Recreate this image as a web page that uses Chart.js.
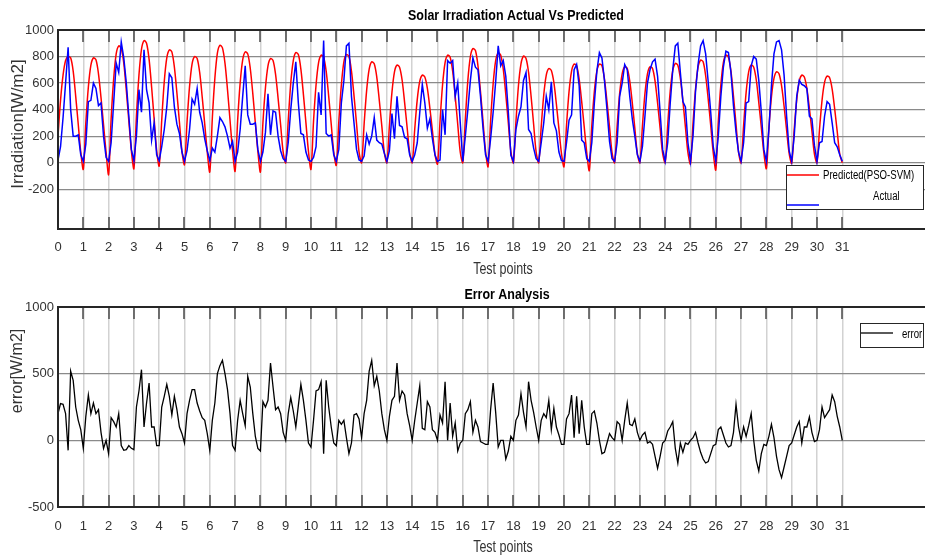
<!DOCTYPE html>
<html>
<head>
<meta charset="utf-8">
<script src="https://cdn.jsdelivr.net/npm/chart.js@4.4.1/dist/chart.umd.min.js"></script>
<style>
  html, body { margin: 0; padding: 0; background: #fff; }
  #wrap { position: relative; width: 925px; height: 560px; background: #fff; }
  canvas { position: absolute; left: 0; }
</style>
</head>
<body>
<div id="wrap">
  <canvas id="irradChart" width="925" height="280" style="top:0"></canvas>
  <canvas id="errorChart" width="925" height="280" style="top:280px"></canvas>
</div>
<script>
const SANS = "'Liberation Sans', Arial, sans-serif";

// tick labels
const xTickValues = [0,1,2,3,4,5,6,7,8,9,10,11,12,13,14,15,16,17,18,19,20,21,22,23,24,25,26,27,28,29,30,31];
const irradTicks = [-200, 0, 200, 400, 600, 800, 1000];
const errorTicks = [-500, 0, 500, 1000];

// one row per day, 10 samples a day, last value is the end point at 31
const predicted = [
  200, 470, 660, 770, 800, 790, 690, 500, 290, 80,
  -50, 300, 570, 735, 790, 775, 670, 490, 285, 80,
  -90, 330, 630, 820, 880, 860, 750, 545, 315, 90,
  -45, 350, 660, 855, 920, 900, 780, 570, 330, 90,
  -25, 320, 610, 790, 850, 835, 720, 525, 305, 85,
  -15, 305, 575, 745, 800, 785, 680, 495, 290, 80,
  -70, 335, 635, 825, 885, 865, 750, 550, 320, 90,
  -65, 315, 600, 775, 835, 820, 710, 520, 300, 85,
  -70, 300, 565, 730, 785, 770, 665, 485, 285, 80,
  0, 315, 600, 770, 830, 815, 705, 515, 300, 85,
  -50, 310, 585, 755, 810, 795, 690, 500, 290, 80,
  -20, 310, 585, 760, 815, 800, 690, 505, 295, 80,
  0, 290, 545, 705, 760, 745, 645, 470, 275, 75,
  0, 280, 530, 685, 735, 720, 625, 455, 265, 75,
  0, 250, 475, 615, 660, 645, 560, 410, 240, 65,
  -10, 310, 585, 755, 810, 795, 690, 500, 290, 80,
  0, 325, 620, 800, 860, 845, 730, 535, 310, 85,
  -30, 315, 595, 770, 828, 810, 705, 515, 300, 85,
  0, 305, 580, 745, 803, 785, 680, 500, 290, 80,
  0, 270, 510, 660, 710, 695, 605, 440, 255, 70,
  -30, 280, 535, 690, 743, 730, 630, 460, 270, 75,
  -60, 280, 535, 690, 743, 730, 630, 460, 270, 75,
  0, 275, 520, 670, 723, 710, 615, 450, 260, 70,
  0, 275, 520, 670, 723, 710, 615, 450, 260, 70,
  0, 285, 540, 695, 748, 735, 635, 465, 270, 75,
  -10, 295, 555, 720, 773, 760, 655, 480, 280, 75,
  -55, 310, 585, 755, 810, 795, 690, 500, 290, 80,
  0, 280, 530, 685, 735, 720, 625, 455, 265, 75,
  -45, 260, 495, 635, 685, 670, 580, 425, 245, 70,
  -5, 250, 475, 615, 660, 645, 560, 410, 240, 65,
  0, 250, 470, 605, 653, 640, 555, 405, 235, 65,
  0
];

const actual = [
  20, 120, 340, 600, 870, 400, 200, 200, 210, 60,
  10, 140, 460, 470, 600, 560, 430, 450, 200, 40,
  10, 150, 450, 750, 680, 910, 790, 600, 350, 100,
  15, 200, 550, 380, 850, 550, 450, 170, 300, 60,
  15, 120, 250, 420, 670, 640, 420, 290, 220, 80,
  10, 90, 250, 480, 440, 560, 380, 300, 180, 90,
  15, 110, 80, 200, 340, 310, 270, 200, 110, 160,
  10, 80, 250, 500, 730, 360, 290, 290, 300, 100,
  10, 80, 230, 520, 210, 390, 380, 200, 90, 30,
  10, 150, 400, 600, 760, 450, 220, 210, 80, 20,
  10, 40, 120, 530, 360, 920, 220, 200, 210, 60,
  10, 100, 450, 620, 880, 900, 500, 300, 100, 20,
  10, 50, 210, 140, 200, 340, 170, 150, 140, 70,
  10, 90, 370, 180, 500, 280, 270, 190, 180, 60,
  10, 60, 150, 380, 590, 450, 260, 330, 180, 60,
  10, 20, 400, 210, 770, 750, 770, 500, 600, 300,
  10, 200, 400, 620, 790, 720, 700, 500, 260, 60,
  10, 180, 380, 610, 880, 730, 770, 650, 380, 55,
  10, 250, 350, 420, 620, 680, 250, 220, 110, 30,
  10, 150, 300, 500, 400, 610, 300, 240, 80, 15,
  10, 150, 320, 360, 700, 740, 580, 170, 150, 30,
  10, 150, 450, 690, 830, 790, 620, 400, 160, 30,
  10, 150, 500, 600, 740, 700, 500, 330, 200, 60,
  10, 120, 350, 600, 700, 760, 780, 650, 380, 100,
  10, 150, 450, 700, 880, 900, 680, 460, 420, 150,
  10, 200, 540, 740, 880, 920, 820, 610, 380, 120,
  10, 200, 500, 720, 840, 830, 680, 430, 230, 80,
  10, 150, 450, 460, 730, 800, 780, 620, 380, 100,
  10, 250, 580, 820, 910, 920, 850, 660, 350, 90,
  10, 200, 500, 620, 590, 580, 560, 350, 330, 130,
  10, 150, 160, 350, 460, 440, 300, 150, 120, 60,
  10
];

const errorVals = [
  200, 275, 270, 200, -75, 520, 450, 250, 150, 80,
  -60, 180, 340, 200, 280, 200, 230, 60, -60, 0,
  -100, 170, 140, 100, 200, -40, -75, -70, -40, -60,
  -70, 250, 370, 530, 100, 280, 430, 100, 100, -40,
  -40, 250, 330, 420, 330, 190, 330, 230, 100, 50,
  -20, 200, 300, 380, 380, 280, 220, 170, 150, 50,
  -75, 150, 280, 500, 560, 600, 500, 380, 200, -40,
  -75, 150, 300, 200, 110, 480, 400, 200, 30, -60,
  -80, 290, 250, 300, 580, 400, 230, 250, 200, 60,
  0, 200, 320, 220, 100, 260, 420, 300, 150, -20,
  -50, 150, 370, 380, 440, -100, 450, 250, 100, -20,
  -40, 150, 120, 150, 20, -100, -20, 190, 200, 160,
  20, 200, 300, 520, 600, 410, 480, 370, 200, 80,
  0, 180, 300, 330, 580, 300, 370, 340, 200, 110,
  0, 150, 280, 410, 90, 80, 290, 250, 80, 60,
  0, 190, 130, 440, 0, 280, 30, 130, -80, -20,
  0, 200, 230, 290, 60, 150, 100, -10, -20, -30,
  -30, 230, 430, 210, -50, 0, 0, -140, -80, 30,
  0, 150, 190, 350, 210, 100, 440, 300, 210, 100,
  0, 150, 200, 170, 300, 80, 240, 100, 40, -30,
  -30, 160, 200, 340, 20, 330, 50, 300, 100, -30,
  -30, 200, 220, 130, 0, -100, -90, -20, 50, 20,
  0, 140, 120, 0, 150, 280, 120, 110, 160, 60,
  0, 40, 60, -20, -10, -30, -120, -210, -120, -20,
  0, 70, 100, 140, -60, -170, -20, -90, -20, -30,
  0, 20, 60, -20, -90, -140, -170, -160, -100, -40,
  -30, 80, 100, 40, -20, -50, -40, 60, 270, 100,
  0, 100, 30, 110, 200, 0, -150, -230, -100, -30,
  -40, 30, 120, 20, -120, -220, -280, -200, -120, -40,
  -20, 40, 100, 140, -20, 100, 100, 175, 60, -10,
  0, 80, 250, 170, 200, 230, 340, 290, 180, 100,
  0
];

// x position of each sample (10 per test point)
const testPoints = predicted.map((v, i) => i / 10);

function toPoints(values) {
  return values.map((v, i) => ({ x: testPoints[i], y: v }));
}

// text squeezed sideways, the matlab export looks condensed
function narrowText(ctx, text, x, y, font, sx, align) {
  ctx.save();
  ctx.font = font;
  ctx.textAlign = align || 'center';
  ctx.textBaseline = 'middle';
  ctx.translate(x, y);
  ctx.scale(sx, 1);
  ctx.fillText(text, 0, 0);
  ctx.restore();
}

// matlab style box: dark frame + short ticks inside at top and bottom
var axesBox = {
  id: 'axesBox',
  afterDatasetsDraw(chart) {
    const ctx = chart.ctx;
    const a = chart.chartArea;
    const x = chart.scales.x;
    ctx.save();
    ctx.strokeStyle = '#4a4a4a';
    ctx.lineWidth = 1.5;
    ctx.beginPath();
    x.ticks.forEach(t => {
      const px = Math.round(x.getPixelForValue(t.value));
      ctx.moveTo(px, a.top);
      ctx.lineTo(px, a.top + 12);
      ctx.moveTo(px, a.bottom);
      ctx.lineTo(px, a.bottom - 12);
    });
    ctx.stroke();
    ctx.strokeStyle = '#262626';
    ctx.lineWidth = 2;
    ctx.beginPath();
    ctx.moveTo(a.right + 3, a.top);
    ctx.lineTo(a.left, a.top);
    ctx.lineTo(a.left, a.bottom);
    ctx.lineTo(a.right + 3, a.bottom);
    ctx.stroke();
    ctx.restore();
  }
};

// titles, axis labels and the legend box
var matlabText = {
  id: 'matlabText',
  afterDraw(chart, args, o) {
    const ctx = chart.ctx;
    ctx.save();
    ctx.fillStyle = '#000';
    narrowText(ctx, o.title, o.titleX, o.titleY, 'bold 15px ' + SANS, 0.83);
    ctx.fillStyle = '#333';
    narrowText(ctx, o.xTitle, o.xTitleX, o.xTitleY, '16px ' + SANS, 0.78);
    ctx.translate(o.yTitleX, o.yTitleY);
    ctx.rotate(-Math.PI / 2);
    ctx.font = o.yTitleSize + 'px ' + SANS;
    ctx.textAlign = 'center';
    ctx.textBaseline = 'middle';
    ctx.fillText(o.yTitle, 0, 0);
    ctx.restore();

    const L = o.legend;
    ctx.save();
    ctx.fillStyle = '#fff';
    ctx.fillRect(L.x, L.y, L.w, L.h);
    ctx.strokeStyle = '#262626';
    ctx.lineWidth = 1;
    ctx.strokeRect(L.x + 0.5, L.y + 0.5, L.w, L.h);
    L.items.forEach(it => {
      const ds = chart.data.datasets[it.dataset];
      ctx.strokeStyle = ds.borderColor;
      ctx.lineWidth = ds.borderWidth;
      ctx.beginPath();
      ctx.moveTo(L.x + 1, it.lineY);
      ctx.lineTo(L.x + 33, it.lineY);
      ctx.stroke();
      ctx.fillStyle = '#000';
      narrowText(ctx, ds.label, it.textX, it.textY, '12px ' + SANS, 0.8, 'left');
    });
    ctx.restore();
  }
};

function xScale(height, pad) {
  return {
    type: 'linear',
    min: 0,
    max: 34.27,
    afterFit: s => { s.height = height; },
    afterBuildTicks: s => { s.ticks = xTickValues.map(v => ({ value: v })); },
    grid: { color: '#d2d2d2', lineWidth: 1.5, drawTicks: false },
    border: { display: false },
    ticks: { padding: pad, autoSkip: false, maxRotation: 0, color: '#333',
             font: { family: SANS, size: 13 }, callback: v => v }
  };
}

function yScale(min, max, tickVals) {
  return {
    min: min,
    max: max,
    afterFit: s => { s.width = 58; },
    afterBuildTicks: s => { s.ticks = tickVals.map(v => ({ value: v })); },
    grid: { color: '#8a8a8a', lineWidth: 1.2, drawTicks: false },
    border: { display: false },
    ticks: { padding: 4, color: '#333', font: { family: SANS, size: 13 }, callback: v => v }
  };
}

new Chart(document.getElementById('irradChart'), {
  type: 'line',
  data: {
    datasets: [{
      label: 'Predicted(PSO-SVM)',
      data: toPoints(predicted),
      borderColor: '#ff0000',
      borderWidth: 1.5,
      pointRadius: 0,
      tension: 0.3,
      order: 2
    }, {
      label: 'Actual',
      data: toPoints(actual),
      borderColor: '#0000ff',
      borderWidth: 1.5,
      pointRadius: 0,
      tension: 0,
      order: 1
    }]
  },
  options: {
    responsive: false,
    animation: false,
    layout: { padding: { top: 30, left: 0, right: 0, bottom: 0 } },
    plugins: {
      legend: { display: false },
      tooltip: { enabled: false },
      matlabText: {
        title: 'Solar Irradiation Actual Vs Predicted', titleX: 516, titleY: 16,
        xTitle: 'Test points', xTitleX: 503, xTitleY: 270,
        yTitle: 'Irradiation[W/m2]', yTitleX: 18, yTitleY: 124, yTitleSize: 17,
        legend: { x: 786, y: 165, w: 137, h: 44, items: [
          { dataset: 0, lineY: 175, textX: 823, textY: 176 },
          { dataset: 1, lineY: 205, textX: 873, textY: 197 }
        ] }
      }
    },
    scales: {
      x: xScale(51, 11),
      y: yScale(-500, 1000, irradTicks)
    }
  },
  plugins: [axesBox, matlabText]
});

new Chart(document.getElementById('errorChart'), {
  type: 'line',
  data: {
    datasets: [{
      label: 'error',
      data: toPoints(errorVals),
      borderColor: '#000000',
      borderWidth: 1.3,
      pointRadius: 0,
      tension: 0
    }]
  },
  options: {
    responsive: false,
    animation: false,
    layout: { padding: { top: 27, left: 0, right: 0, bottom: 0 } },
    plugins: {
      legend: { display: false },
      tooltip: { enabled: false },
      matlabText: {
        title: 'Error Analysis', titleX: 507, titleY: 15,
        xTitle: 'Test points', xTitleX: 503, xTitleY: 268,
        yTitle: 'error[W/m2]', yTitleX: 18, yTitleY: 91, yTitleSize: 16,
        legend: { x: 860, y: 43, w: 63, h: 24, items: [
          { dataset: 0, lineY: 53, textX: 902, textY: 55 }
        ] }
      }
    },
    scales: {
      x: xScale(53, 12),
      y: yScale(-500, 1000, errorTicks)
    }
  },
  plugins: [axesBox, matlabText]
});
</script>
</body>
</html>
